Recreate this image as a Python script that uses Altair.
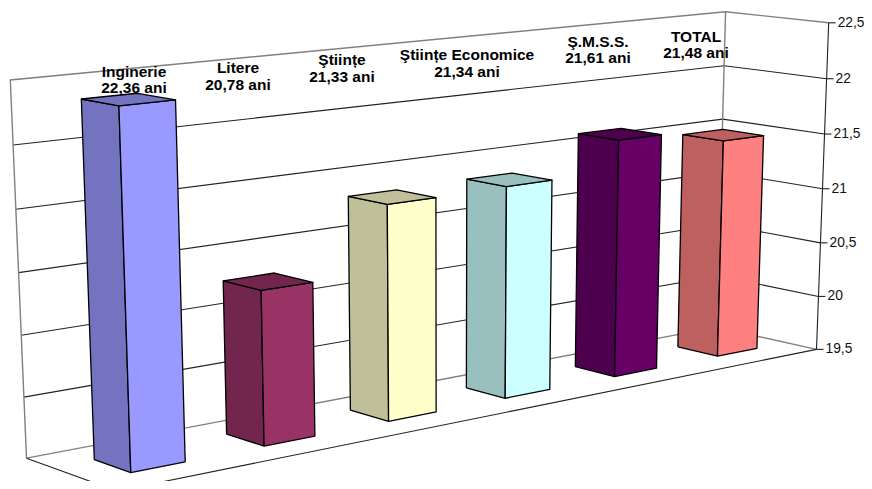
import altair as alt
import numpy as np
import pandas as pd

# ---- chart values ----
categories = ["Inginerie", "Litere", "Ştiințe", "Ştiințe Economice", "Ş.M.S.S.", "TOTAL"]
values = [22.36, 20.78, 21.33, 21.34, 21.61, 21.48]
value_labels = ["22,36 ani", "20,78 ani", "21,33 ani", "21,34 ani", "21,61 ani", "21,48 ani"]
front_colors = ["#9999FF", "#993366", "#FFFFCC", "#CCFFFF", "#660066", "#FF8080"]
side_colors = ["#7373BF", "#73264D", "#BFBF99", "#99BFBF", "#4D004D", "#BF6060"]
axis_values = [19.5, 20, 20.5, 21, 21.5, 22, 22.5]
axis_labels = ["19,5", "20", "20,5", "21", "21,5", "22", "22,5"]
V_MIN, V_MAX = 19.5, 22.5

# ---- 3D view: (along categories, depth, height in steps of 1/6) seen in the picture ----
view_box = [
    (0, 1, 0), (0, 1, 1 / 6), (0, 1, 2 / 6), (0, 1, 3 / 6), (0, 1, 4 / 6), (0, 1, 5 / 6), (0, 1, 1),
    (1, 0, 0), (1, 0, 1 / 6), (1, 0, 2 / 6), (1, 0, 3 / 6), (1, 0, 4 / 6), (1, 0, 5 / 6), (1, 0, 1),
    (1, 1, 1), (1, 1, 5 / 6), (1, 1, 4 / 6), (0, 0, 0),
    (0.05, 0.3, 0), (0.1167, 0.3, 0), (0.05, 0.7, 0),
    (0.8833, 0.3, 0), (0.95, 0.3, 0), (0.8833, 0.7, 0),
]
view_seen = [
    (25.7, 458), (24.3, 396.7), (22, 335.7), (19, 272.7), (16, 209), (12.7, 145), (10, 80),
    (816.7, 349.3), (818.5, 296.7), (820.5, 242.7), (822, 189), (825, 134), (827, 78.3), (828.3, 23),
    (725, 12), (724.3, 65.7), (723.3, 119), (117, 490.6),
    (131, 473), (185, 462), (94, 460),
    (717.3, 356), (756.7, 348.3), (677.7, 346.7),
]


def fit_camera(box, seen):
    weights = np.ones(len(box))
    sol = None
    for _ in range(12):
        rows, rhs = [], []
        for (a, b, c), (x, y), k in zip(box, seen, weights):
            rows.append([k * t for t in (a, b, c, 1, 0, 0, 0, 0, -x * a, -x * b, -x * c)])
            rhs.append(k * x)
            rows.append([k * t for t in (0, 0, 0, 0, a, b, c, 1, -y * a, -y * b, -y * c)])
            rhs.append(k * y)
        sol = np.linalg.lstsq(np.array(rows, float), np.array(rhs, float), rcond=None)[0]
        weights = np.array([1 / (sol[8] * a + sol[9] * b + sol[10] * c + 1) for a, b, c in box])
    return sol


CAM = fit_camera(view_box, view_seen)


def project(u, d, value):
    h = (value - V_MIN) / (V_MAX - V_MIN)
    w = CAM[8] * u + CAM[9] * d + CAM[10] * h + 1
    return (
        (CAM[0] * u + CAM[1] * d + CAM[2] * h + CAM[3]) / w,
        (CAM[4] * u + CAM[5] * d + CAM[6] * h + CAM[7]) / w,
    )


x_scale = alt.Scale(domain=[8, 864], nice=False, zero=False)
y_scale = alt.Scale(domain=[481, 8], nice=False, zero=False)
X = alt.X("x:Q", scale=x_scale, axis=None)
Y = alt.Y("y:Q", scale=y_scale, axis=None)


def segments(paths):
    rows = []
    for k, path in enumerate(paths):
        for s, (u, d, v) in enumerate(path):
            x, y = project(u, d, v)
            rows.append({"path": k, "seq": s, "x": x, "y": y})
    return pd.DataFrame(rows)


def line_layer(paths, color, width):
    return (
        alt.Chart(segments(paths))
        .mark_line(color=color, strokeWidth=width, clip=True)
        .encode(x=X, y=Y, detail="path:N", order="seq:Q")
    )


grey_paths = [
    [(0, 1, V_MIN), (0, 1, V_MAX), (1, 1, V_MAX), (1, 0, V_MAX)],
    [(1, 1, V_MIN), (1, 1, V_MAX)],
    [(0, 1, V_MIN), (1, 1, V_MIN), (1, 0, V_MIN)],
]
grid_paths = [[(0, 1, v), (1, 1, v), (1, 0, v)] for v in axis_values[1:-1]]
floor_paths = [[(0, 1, V_MIN), (0, 0, V_MIN), (1, 0, V_MIN)], [(1, 0, V_MIN), (1, 0, V_MAX)]]

layers = [
    line_layer(grid_paths, "#222222", 1.1),
    line_layer(grey_paths, "#808080", 1.4),
    line_layer(floor_paths, "#222222", 1.1),
]

# axis ticks and labels on the right-hand edge
tick_rows, label_rows = [], []
for k, (v, lab) in enumerate(zip(axis_values, axis_labels)):
    x, y = project(1, 0, v)
    tick_rows += [{"path": k, "seq": 0, "x": x, "y": y}, {"path": k, "seq": 1, "x": x + 7, "y": y}]
    label_rows.append({"x": x + 9, "y": y, "label": lab})
layers.append(
    alt.Chart(pd.DataFrame(tick_rows))
    .mark_line(color="#222222", strokeWidth=1.1)
    .encode(x=X, y=Y, detail="path:N", order="seq:Q")
)
layers.append(
    alt.Chart(pd.DataFrame(label_rows))
    .mark_text(align="left", baseline="middle", font="Liberation Sans", fontSize=13.8, color="#111111")
    .encode(x=X, y=Y, text="label:N")
)

# bars
GAP = 0.3
n = len(categories)
for i, v in enumerate(values):
    u0, u1 = (i + GAP) / n, (i + 1 - GAP) / n
    d0, d1 = GAP, 1 - GAP
    faces = [
        ([(u0, d1, V_MIN), (u0, d0, V_MIN), (u0, d0, v), (u0, d1, v), (u0, d1, V_MIN)], side_colors[i]),
        ([(u0, d0, V_MIN), (u1, d0, V_MIN), (u1, d0, v), (u0, d0, v), (u0, d0, V_MIN)], front_colors[i]),
        ([(u0, d1, v), (u0, d0, v), (u1, d0, v), (u1, d1, v), (u0, d1, v)], side_colors[i]),
    ]
    for path, colour in faces:
        layers.append(
            alt.Chart(segments([path]))
            .mark_line(fill=colour, stroke="#000000", strokeWidth=1.3, strokeJoin="round")
            .encode(x=X, y=Y, order="seq:Q")
        )

# hand-placed captions of the original
caption_x = [134, 238, 342, 467, 598, 696]
caption_y = [71.7, 68.3, 60, 55, 41.7, 36.7]
caption_step = 16.5
cap_rows = []
for name, lab, x, y in zip(categories, value_labels, caption_x, caption_y):
    cap_rows.append({"x": x, "y": y, "label": name})
    cap_rows.append({"x": x, "y": y + caption_step, "label": lab})
layers.append(
    alt.Chart(pd.DataFrame(cap_rows))
    .mark_text(align="center", baseline="middle", font="Liberation Sans", fontWeight="bold", fontSize=15.5, color="#000000")
    .encode(x=X, y=Y, text="label:N")
)

chart = (
    alt.layer(*layers)
    .properties(width=856, height=473, padding=0, autosize=alt.AutoSizeParams(type="none"), background="white")
    .configure_view(stroke=None)
)
chart.save("out.html", embed_options={"renderer": "svg", "actions": False})
